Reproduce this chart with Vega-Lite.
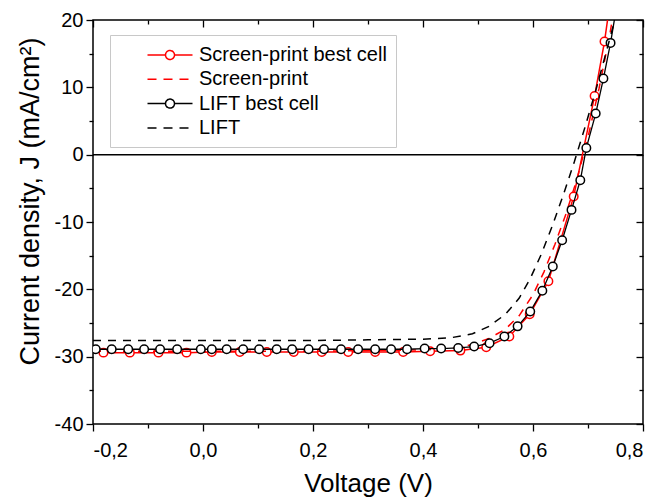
{
  "$schema": "https://vega.github.io/schema/vega-lite/v6.json",
  "width": 550,
  "height": 404,
  "autosize": {"type": "none"},
  "padding": {"left": 93, "top": 20, "right": 14, "bottom": 77},
  "config": {
    "font": "Liberation Sans",
    "view": {"stroke": "black", "strokeWidth": 1.5},
    "axis": {
      "domain": false, "grid": false, "tickColor": "black", "tickWidth": 1.3,
      "labelFont": "Liberation Sans", "labelFontSize": 20, "labelColor": "black",
      "titleFont": "Liberation Sans", "titleFontWeight": "normal", "titleColor": "black"
    }
  },
  "datasets": {
    "zero": [{"J": 0}],
    "curves": [
      {"series": "Screen-print best cell", "V": -0.181, "J": -29.4},
      {"series": "Screen-print best cell", "V": -0.133, "J": -29.4},
      {"series": "Screen-print best cell", "V": -0.081, "J": -29.4},
      {"series": "Screen-print best cell", "V": -0.030, "J": -29.4},
      {"series": "Screen-print best cell", "V": 0.016, "J": -29.3},
      {"series": "Screen-print best cell", "V": 0.067, "J": -29.3},
      {"series": "Screen-print best cell", "V": 0.116, "J": -29.3},
      {"series": "Screen-print best cell", "V": 0.165, "J": -29.3},
      {"series": "Screen-print best cell", "V": 0.216, "J": -29.3},
      {"series": "Screen-print best cell", "V": 0.264, "J": -29.3},
      {"series": "Screen-print best cell", "V": 0.313, "J": -29.3},
      {"series": "Screen-print best cell", "V": 0.364, "J": -29.3},
      {"series": "Screen-print best cell", "V": 0.413, "J": -29.2},
      {"series": "Screen-print best cell", "V": 0.468, "J": -29.1},
      {"series": "Screen-print best cell", "V": 0.515, "J": -28.6},
      {"series": "Screen-print best cell", "V": 0.557, "J": -27.0},
      {"series": "Screen-print best cell", "V": 0.594, "J": -23.7},
      {"series": "Screen-print best cell", "V": 0.628, "J": -18.8},
      {"series": "Screen-print best cell", "V": 0.674, "J": -6.2},
      {"series": "Screen-print best cell", "V": 0.712, "J": 8.7},
      {"series": "Screen-print best cell", "V": 0.730, "J": 16.8},
      {"series": "Screen-print best cell", "V": 0.739, "J": 22.0},

      {"series": "Screen-print", "V": -0.2, "J": -29.2},
      {"series": "Screen-print", "V": 0.2, "J": -29.2},
      {"series": "Screen-print", "V": 0.4, "J": -29.0},
      {"series": "Screen-print", "V": 0.45, "J": -28.8},
      {"series": "Screen-print", "V": 0.49, "J": -28.2},
      {"series": "Screen-print", "V": 0.52, "J": -27.3},
      {"series": "Screen-print", "V": 0.55, "J": -25.9},
      {"series": "Screen-print", "V": 0.575, "J": -23.9},
      {"series": "Screen-print", "V": 0.60, "J": -20.8},
      {"series": "Screen-print", "V": 0.62, "J": -17.4},
      {"series": "Screen-print", "V": 0.64, "J": -13.3},
      {"series": "Screen-print", "V": 0.66, "J": -8.8},
      {"series": "Screen-print", "V": 0.68, "J": -3.6},
      {"series": "Screen-print", "V": 0.70, "J": 2.6},
      {"series": "Screen-print", "V": 0.72, "J": 9.8},
      {"series": "Screen-print", "V": 0.74, "J": 18.0},
      {"series": "Screen-print", "V": 0.746, "J": 21.0},

      {"series": "LIFT best cell", "V": -0.195, "J": -28.9},
      {"series": "LIFT best cell", "V": -0.166, "J": -28.9},
      {"series": "LIFT best cell", "V": -0.136, "J": -28.9},
      {"series": "LIFT best cell", "V": -0.107, "J": -28.9},
      {"series": "LIFT best cell", "V": -0.078, "J": -28.9},
      {"series": "LIFT best cell", "V": -0.047, "J": -28.9},
      {"series": "LIFT best cell", "V": -0.004, "J": -28.9},
      {"series": "LIFT best cell", "V": 0.016, "J": -28.9},
      {"series": "LIFT best cell", "V": 0.043, "J": -28.9},
      {"series": "LIFT best cell", "V": 0.073, "J": -28.9},
      {"series": "LIFT best cell", "V": 0.102, "J": -28.9},
      {"series": "LIFT best cell", "V": 0.134, "J": -28.9},
      {"series": "LIFT best cell", "V": 0.162, "J": -28.9},
      {"series": "LIFT best cell", "V": 0.192, "J": -28.9},
      {"series": "LIFT best cell", "V": 0.220, "J": -28.9},
      {"series": "LIFT best cell", "V": 0.251, "J": -28.9},
      {"series": "LIFT best cell", "V": 0.282, "J": -28.9},
      {"series": "LIFT best cell", "V": 0.313, "J": -28.9},
      {"series": "LIFT best cell", "V": 0.342, "J": -28.9},
      {"series": "LIFT best cell", "V": 0.371, "J": -28.9},
      {"series": "LIFT best cell", "V": 0.403, "J": -28.8},
      {"series": "LIFT best cell", "V": 0.433, "J": -28.8},
      {"series": "LIFT best cell", "V": 0.464, "J": -28.7},
      {"series": "LIFT best cell", "V": 0.493, "J": -28.5},
      {"series": "LIFT best cell", "V": 0.521, "J": -28.0},
      {"series": "LIFT best cell", "V": 0.548, "J": -27.0},
      {"series": "LIFT best cell", "V": 0.572, "J": -25.5},
      {"series": "LIFT best cell", "V": 0.595, "J": -23.3},
      {"series": "LIFT best cell", "V": 0.617, "J": -20.2},
      {"series": "LIFT best cell", "V": 0.636, "J": -16.6},
      {"series": "LIFT best cell", "V": 0.653, "J": -12.7},
      {"series": "LIFT best cell", "V": 0.670, "J": -8.2},
      {"series": "LIFT best cell", "V": 0.686, "J": -3.8},
      {"series": "LIFT best cell", "V": 0.697, "J": 1.0},
      {"series": "LIFT best cell", "V": 0.714, "J": 6.1},
      {"series": "LIFT best cell", "V": 0.728, "J": 11.3},
      {"series": "LIFT best cell", "V": 0.741, "J": 16.6},
      {"series": "LIFT best cell", "V": 0.752, "J": 22.0},

      {"series": "LIFT", "V": -0.2, "J": -27.6},
      {"series": "LIFT", "V": 0.2, "J": -27.6},
      {"series": "LIFT", "V": 0.3, "J": -27.5},
      {"series": "LIFT", "V": 0.4, "J": -27.4},
      {"series": "LIFT", "V": 0.45, "J": -27.2},
      {"series": "LIFT", "V": 0.49, "J": -26.6},
      {"series": "LIFT", "V": 0.52, "J": -25.5},
      {"series": "LIFT", "V": 0.55, "J": -23.7},
      {"series": "LIFT", "V": 0.575, "J": -21.3},
      {"series": "LIFT", "V": 0.595, "J": -18.4},
      {"series": "LIFT", "V": 0.615, "J": -14.8},
      {"series": "LIFT", "V": 0.635, "J": -10.6},
      {"series": "LIFT", "V": 0.655, "J": -6.0},
      {"series": "LIFT", "V": 0.675, "J": -1.1},
      {"series": "LIFT", "V": 0.695, "J": 4.2},
      {"series": "LIFT", "V": 0.715, "J": 9.8},
      {"series": "LIFT", "V": 0.735, "J": 15.8},
      {"series": "LIFT", "V": 0.752, "J": 21.0}
    ]
  },
  "layer": [
    {
      "data": {"name": "zero"},
      "mark": {"type": "rule", "color": "black", "strokeWidth": 1.5},
      "encoding": {
        "y": {"field": "J", "type": "quantitative",
          "scale": {"domain": [-40, 20], "nice": false, "zero": false},
          "axis": {"orient": "left", "values": [-40, -30, -20, -10, 0, 10, 20], "tickSize": 7,
            "labelPadding": 3, "labelExpr": "'' + datum.value",
            "title": "Current density, J (mA/cm²)", "titleFontSize": 27, "titlePadding": 10, "titleY": 181}}
      }
    },
    {
      "data": {"name": "zero"},
      "mark": {"type": "point", "opacity": 0},
      "encoding": {
        "x": {"datum": 0, "type": "quantitative",
          "scale": {"domain": [-0.2, 0.8], "nice": false, "zero": false},
          "axis": {"orient": "bottom", "values": [-0.2, 0, 0.2, 0.4, 0.6, 0.8], "tickSize": 7,
            "labelPadding": 9,
            "labelExpr": "replace(replace(format(datum.value, '.1f'), '.', ','), '−', '-')",
            "title": "Voltage (V)", "titleFontSize": 26, "titlePadding": 10}},
        "y": {"field": "J", "type": "quantitative",
          "axis": {"orient": "left", "values": [-35, -25, -15, -5, 5, 15], "tickSize": 4, "labels": false, "title": null}}
      }
    },
    {
      "data": {"name": "zero"},
      "mark": {"type": "point", "opacity": 0},
      "encoding": {
        "x": {"datum": 0, "type": "quantitative",
          "axis": {"orient": "bottom", "values": [-0.1, 0.1, 0.3, 0.5, 0.7], "tickSize": 4, "labels": false, "title": null}},
        "y": {"field": "J", "type": "quantitative",
          "axis": {"orient": "right", "values": [-40, -30, -20, -10, 0, 10, 20], "tickSize": -7, "labels": false, "title": null}}
      }
    },
    {
      "data": {"name": "zero"},
      "mark": {"type": "point", "opacity": 0},
      "encoding": {
        "x": {"datum": 0, "type": "quantitative",
          "axis": {"orient": "top", "values": [-0.2, 0, 0.2, 0.4, 0.6, 0.8], "tickSize": -7, "labels": false, "title": null}},
        "y": {"field": "J", "type": "quantitative",
          "axis": {"orient": "right", "values": [-35, -25, -15, -5, 5, 15], "tickSize": -4, "labels": false, "title": null}}
      }
    },
    {
      "data": {"name": "zero"},
      "mark": {"type": "point", "opacity": 0},
      "encoding": {
        "x": {"datum": 0, "type": "quantitative",
          "axis": {"orient": "top", "values": [-0.1, 0.1, 0.3, 0.5, 0.7], "tickSize": -4, "labels": false, "title": null}}
      }
    },
    {
      "data": {"name": "curves"},
      "transform": [{"filter": "datum.series == 'Screen-print best cell'"}],
      "mark": {"type": "line", "strokeWidth": 1.5, "clip": true},
      "encoding": {
        "x": {"field": "V", "type": "quantitative", "axis": null},
        "y": {"field": "J", "type": "quantitative", "axis": null},
        "color": {"field": "series", "type": "nominal",
          "scale": {"domain": ["Screen-print best cell", "Screen-print", "LIFT best cell", "LIFT"],
                    "range": ["#ff0000", "#ff0000", "#000000", "#000000"]},
          "legend": {
            "orient": "none", "legendX": 17, "legendY": 15, "title": null,
            "labelFont": "Liberation Sans", "labelFontSize": 20, "labelColor": "black", "labelLimit": 400,
            "strokeColor": "#c8c8c8", "fillColor": "white", "padding": 9,
            "symbolType": "M-2.25,0L2.25,0", "symbolSize": 400, "symbolStrokeWidth": 1.5,
            "symbolOffset": 40, "labelOffset": 18, "rowPadding": 3.3,
            "encode": {"symbols": {"update": {
              "shape": {"signal": "indexof(datum.value, 'best') >= 0 ? 'M-2.25,0L-0.45,0M0.45,0L2.25,0M-0.45,0A0.45,0.45,0,1,1,0.45,0A0.45,0.45,0,1,1,-0.45,0' : 'M-2.25,0L2.25,0'"},
              "strokeDash": {"signal": "indexof(datum.value, 'best') >= 0 ? [1,0] : [9,7]"},
              "fill": {"value": "white"},
              "stroke": {"scale": "color", "field": "value"},
              "strokeWidth": {"value": 1.5},
              "opacity": {"value": 1}
            }}}
          }}
      }
    },
    {
      "data": {"name": "curves"},
      "transform": [{"filter": "datum.series == 'Screen-print best cell'"}],
      "mark": {"type": "point", "shape": "circle", "filled": false, "fill": "white", "size": 72, "strokeWidth": 1.5, "opacity": 1, "clip": true},
      "encoding": {
        "x": {"field": "V", "type": "quantitative", "axis": null},
        "y": {"field": "J", "type": "quantitative", "axis": null},
        "color": {"field": "series", "type": "nominal"}
      }
    },
    {
      "data": {"name": "curves"},
      "transform": [{"filter": "datum.series == 'Screen-print'"}],
      "mark": {"type": "line", "strokeWidth": 1.5, "strokeDash": [8, 7], "clip": true},
      "encoding": {
        "x": {"field": "V", "type": "quantitative", "axis": null},
        "y": {"field": "J", "type": "quantitative", "axis": null},
        "color": {"field": "series", "type": "nominal"}
      }
    },
    {
      "data": {"name": "curves"},
      "transform": [{"filter": "datum.series == 'LIFT best cell'"}],
      "mark": {"type": "line", "strokeWidth": 1.3, "clip": true},
      "encoding": {
        "x": {"field": "V", "type": "quantitative", "axis": null},
        "y": {"field": "J", "type": "quantitative", "axis": null},
        "color": {"field": "series", "type": "nominal"}
      }
    },
    {
      "data": {"name": "curves"},
      "transform": [{"filter": "datum.series == 'LIFT best cell'"}],
      "mark": {"type": "point", "shape": "circle", "filled": false, "fill": "white", "size": 72, "strokeWidth": 1.5, "opacity": 1, "clip": true},
      "encoding": {
        "x": {"field": "V", "type": "quantitative", "axis": null},
        "y": {"field": "J", "type": "quantitative", "axis": null},
        "color": {"field": "series", "type": "nominal"}
      }
    },
    {
      "data": {"name": "curves"},
      "transform": [{"filter": "datum.series == 'LIFT'"}],
      "mark": {"type": "line", "strokeWidth": 1.5, "strokeDash": [8, 7], "clip": true},
      "encoding": {
        "x": {"field": "V", "type": "quantitative", "axis": null},
        "y": {"field": "J", "type": "quantitative", "axis": null},
        "color": {"field": "series", "type": "nominal"}
      }
    }
  ],
  "resolve": {"axis": {"x": "independent", "y": "independent"}}
}
